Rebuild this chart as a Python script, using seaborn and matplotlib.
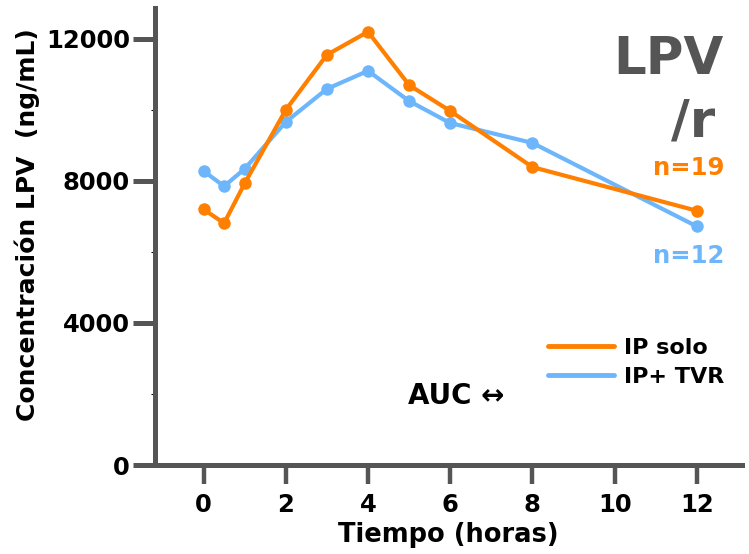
import matplotlib
matplotlib.use("Agg")
import matplotlib.pyplot as plt
from matplotlib.lines import Line2D
from matplotlib.ticker import MultipleLocator
import pandas as pd
import seaborn as sns

# Lopinavir concentration over time (ng/mL)
tiempo = [0, 0.5, 1, 2, 3, 4, 5, 6, 8, 12]
ip_solo = [7200, 6810, 7930, 10000, 11550, 12200, 10700, 9970, 8390, 7160]
ip_tvr = [8280, 7850, 8340, 9660, 10590, 11100, 10250, 9630, 9070, 6720]
series_names = ["IP solo", "IP+ TVR"]
x_ticks = [0, 2, 4, 6, 8, 10, 12]
y_ticks = [0, 4000, 8000, 12000]

ORANGE = "#FF8000"
BLUE = "#6DB6FC"
AXIS = "#555555"

df = pd.DataFrame({
    "tiempo": tiempo * 2,
    "conc": ip_solo + ip_tvr,
    "grupo": [series_names[0]] * len(tiempo) + [series_names[1]] * len(tiempo),
})

sns.set_theme(style="white")
plt.rcParams["font.family"] = ["DejaVu Sans"]
plt.rcParams["font.weight"] = "bold"
plt.rcParams["text.color"] = "black"
plt.rcParams["axes.labelcolor"] = "black"

fig = plt.figure(figsize=(7.49, 5.54), dpi=100)
ax = fig.add_axes([0.207, 0.1606, 0.7837, 0.825])

# blue first so the orange curve sits on top
for name, color in [(series_names[1], BLUE), (series_names[0], ORANGE)]:
    sns.lineplot(data=df[df["grupo"] == name], x="tiempo", y="conc",
                 color=color, linewidth=3.0, marker="o", markersize=9,
                 markeredgewidth=0, ax=ax, legend=False)

ax.set_xlim(-1.18, 13.1)
ax.set_ylim(0, 12870)
ax.set_xticks(x_ticks)
ax.set_yticks(y_ticks)
ax.yaxis.set_minor_locator(MultipleLocator(2000))

for side in ["top", "right"]:
    ax.spines[side].set_visible(False)
for side in ["left", "bottom"]:
    ax.spines[side].set_color(AXIS)
    ax.spines[side].set_linewidth(3.6)

ax.tick_params(axis="y", which="major", direction="out", length=16, width=3.6,
               color=AXIS, labelcolor="black", labelsize=17.5, pad=2, left=True)
ax.tick_params(axis="y", which="minor", direction="out", length=3, width=0.8,
               color="black", left=True)
ax.tick_params(axis="x", which="major", direction="out", length=14, width=3.2,
               color=AXIS, labelcolor="black", labelsize=17.5, pad=6, bottom=True)
for lbl in ax.get_xticklabels() + ax.get_yticklabels():
    lbl.set_fontweight("bold")

ax.set_xlabel("Tiempo (horas)", fontsize=18.5, fontweight="bold", labelpad=4)
ax.set_ylabel("Concentración LPV  (ng/mL)", fontsize=18, fontweight="bold")
ax.yaxis.set_label_coords(-0.196, 0.525)

handles = [Line2D([0], [0], color=ORANGE, lw=3.5),
           Line2D([0], [0], color=BLUE, lw=3.5)]
leg = ax.legend(handles, series_names, loc="center left",
                bbox_to_anchor=(0.635, 0.225), frameon=False,
                handlelength=3.0, handletextpad=0.45, labelspacing=0.4,
                prop={"weight": "bold", "size": 16})

ax.text(11.3, 11400, "LPV", fontsize=37, fontweight="bold", color=AXIS,
        ha="center", va="center")
ax.text(11.9, 9640, "/r", fontsize=37, fontweight="bold", color=AXIS,
        ha="center", va="center")
ax.text(11.8, 8350, "n=19", fontsize=17.5, fontweight="bold", color=ORANGE,
        ha="center", va="center")
ax.text(11.8, 5900, "n=12", fontsize=17.5, fontweight="bold", color=BLUE,
        ha="center", va="center")
ax.text(6.15, 1950, "AUC \u2194", fontsize=20, fontweight="bold", color="black",
        ha="center", va="center")

fig.savefig("out.png", dpi=100)
